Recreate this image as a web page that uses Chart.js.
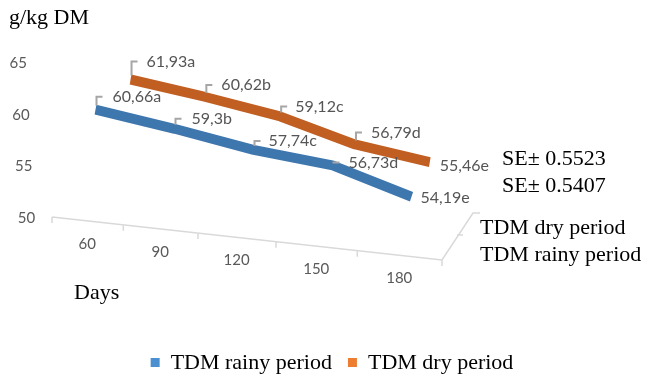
<!DOCTYPE html>
<html>
<head>
<meta charset="utf-8">
<script src="https://cdn.jsdelivr.net/npm/chart.js@4.4.0/dist/chart.umd.min.js"></script>
<style>
  body { margin: 0; background: #fff; }
  canvas { display: block; }
</style>
</head>
<body>
<canvas id="chart" width="650" height="380"></canvas>
<script>
const days = ['60', '90', '120', '150', '180'];
const rainyPeriod = [60.66, 59.3, 57.74, 56.73, 54.19];
const dryPeriod = [61.93, 60.62, 59.12, 56.79, 55.46];
const letters = ['a', 'b', 'c', 'd', 'e'];
const yTicks = [50, 55, 60, 65];
const seNotes = ['SE\u00b1 0.5523', 'SE\u00b1 0.5407'];
const depthNames = ['TDM dry period', 'TDM rainy period'];

// fake 3D: every series gets its own shear + offset (canvas matrix)
const depthTransforms = [
  [1, 0.064, 0, 1, 0, -3.3],
  [0.947, 0.05, 0, 1, 40.1, -19]
];
// text position of each value label, relative to its point
const labelShift = [
  [[17, -13], [17, -10], [15, -9], [16, -3], [9, 1]],
  [[16, -18], [16, -12], [15, -10], [16, -12], [10, 4]]
];

const serif = '22px "Liberation Serif", "Times New Roman", serif';
const sans = '"Lato", "Noto Sans", sans-serif';

function applyMatrix(m, x, y) {
  return [m[0] * x + m[2] * y + m[4], m[1] * x + m[3] * y + m[5]];
}

// floor gets a bit wider towards the viewer
function persp(t) {
  return t * (1 + 0.12 * t) / 1.12;
}

function fmt(v) {
  return String(v).replace('.', ',');
}

const fake3d = {
  id: 'fake3d',
  beforeDatasetsDraw(chart) {
    const { ctx, chartArea: a, scales: { x, y } } = chart;
    const x0 = a.left - 4, x1 = a.right - 9;
    const y0 = y.getPixelForValue(50);
    const slope = 43 / (x1 - x0);
    const floorY = px => y0 + (px - x0) * slope;

    ctx.save();
    ctx.strokeStyle = '#D9D9D9';
    ctx.lineWidth = 1.5;
    ctx.beginPath();
    ctx.moveTo(x0, y0);
    ctx.lineTo(x1, floorY(x1));
    ctx.lineTo(x1 + 31, floorY(x1) - 47);
    ctx.lineTo(x1 + 38, floorY(x1) - 47);
    ctx.moveTo(x1 + 21, floorY(x1) - 25);
    ctx.lineTo(x1 + 15, floorY(x1) - 25);
    for (let i = 0; i <= days.length; i++) {
      const px = x0 + (x1 - x0) * persp(i / days.length);
      ctx.moveTo(px, floorY(px));
      ctx.lineTo(px, floorY(px) + 6);
    }
    ctx.stroke();

    // category labels along the floor
    ctx.fillStyle = '#595959';
    ctx.font = '15px ' + sans;
    ctx.textAlign = 'center';
    ctx.textBaseline = 'middle';
    days.forEach((d, i) => {
      const t = (x.getPixelForValue(i) - a.left) / a.width;
      const px = x0 + (x1 - x0) * persp(t);
      ctx.fillText(d, px, floorY(px) + 23);
    });

    // value axis labels
    ctx.textAlign = 'right';
    yTicks.forEach(v => {
      ctx.fillText(String(v), x0 - 25 + (65 - v) * 0.55, y.getPixelForValue(v) + 1);
    });
    ctx.restore();
  },
  beforeDatasetDraw(chart, args) {
    const ctx = chart.ctx;
    ctx.save();
    ctx.transform(...depthTransforms[args.index]);
  },
  afterDatasetDraw(chart) {
    chart.ctx.restore();
  },
  afterDatasetsDraw(chart) {
    const ctx = chart.ctx;
    ctx.save();
    ctx.font = '16px ' + sans;
    ctx.textAlign = 'left';
    ctx.textBaseline = 'middle';
    chart.data.datasets.forEach((ds, d) => {
      const meta = chart.getDatasetMeta(d);
      meta.data.forEach((el, i) => {
        const [px, py] = applyMatrix(depthTransforms[d], el.x, el.y);
        const [dx, dy] = labelShift[d][i];
        if (i < meta.data.length - 1) {
          ctx.strokeStyle = '#A6A6A6';
          ctx.lineWidth = 2;
          ctx.beginPath();
          ctx.moveTo(px + 1, py - 4);
          ctx.lineTo(px + 1, py + dy);
          ctx.lineTo(px + 7, py + dy);
          ctx.stroke();
        }
        ctx.fillStyle = '#555555';
        ctx.fillText(fmt(ds.data[i]) + letters[i], px + dx, py + dy);
      });
    });
    ctx.restore();
  },
  afterDraw(chart) {
    const ctx = chart.ctx;
    ctx.save();
    ctx.fillStyle = '#000';
    ctx.font = serif;
    ctx.textAlign = 'left';
    ctx.textBaseline = 'middle';
    ctx.fillText('g/kg DM', 9, 18);
    ctx.fillText('Days', 74, 293);
    seNotes.forEach((s, i) => ctx.fillText(s, 502, 159 + i * 27));
    depthNames.forEach((s, i) => ctx.fillText(s, 480, 228 + i * 27));

    // legend
    const items = chart.data.datasets.map(ds => ({ text: ds.label, color: ds.legendColor }));
    const box = 9, gap = 11, itemGap = 16;
    const widths = items.map(it => box + gap + ctx.measureText(it.text).width);
    let lx = 332 - (widths.reduce((s, w) => s + w, 0) + itemGap) / 2;
    items.forEach((it, i) => {
      ctx.fillStyle = it.color;
      ctx.fillRect(lx, 358, box, box);
      ctx.fillStyle = '#000';
      ctx.fillText(it.text, lx + box + gap, 363);
      lx += widths[i] + itemGap;
    });
    ctx.restore();
  }
};

new Chart(document.getElementById('chart'), {
  type: 'line',
  data: {
    labels: days,
    datasets: [
      {
        label: 'TDM rainy period',
        data: rainyPeriod,
        borderColor: '#3E76AE',
        legendColor: '#4A8FD0',
        borderWidth: 10,
        borderCapStyle: 'butt',
        borderJoinStyle: 'round',
        pointRadius: 0,
        tension: 0,
        clip: false
      },
      {
        label: 'TDM dry period',
        data: dryPeriod,
        borderColor: '#C15F22',
        legendColor: '#ED7D31',
        borderWidth: 10,
        borderCapStyle: 'butt',
        borderJoinStyle: 'round',
        pointRadius: 0,
        tension: 0,
        clip: false
      }
    ]
  },
  options: {
    responsive: false,
    animation: false,
    events: [],
    layout: { padding: { left: 56, right: 199, top: 62, bottom: 163 } },
    scales: {
      x: { display: false, offset: true },
      y: { display: false, min: 50, max: 65 }
    },
    plugins: {
      legend: { display: false },
      tooltip: { enabled: false }
    }
  },
  plugins: [fake3d]
});
</script>
</body>
</html>
